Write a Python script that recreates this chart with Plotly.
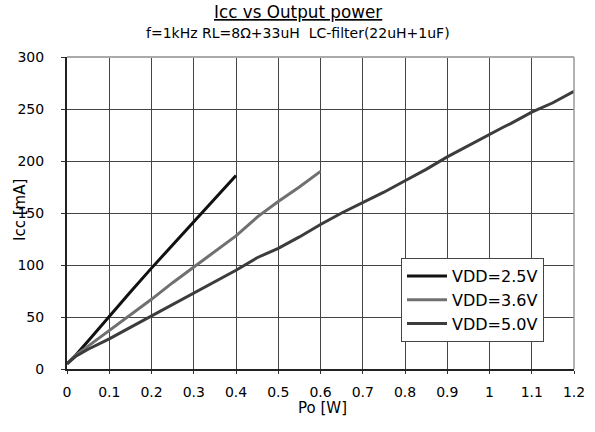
import plotly.graph_objects as go

series_names = ["VDD=2.5V", "VDD=3.6V", "VDD=5.0V"]

po_25 = [0, 0.02, 0.05, 0.1, 0.15, 0.2, 0.25, 0.3, 0.35, 0.4]
icc_25 = [5, 13, 27, 51, 74, 97, 119, 141, 164, 186]

po_36 = [0, 0.02, 0.05, 0.1, 0.15, 0.2, 0.25, 0.3, 0.35, 0.4, 0.45, 0.5, 0.55, 0.6]
icc_36 = [5, 13, 22, 37, 52, 67, 83, 98, 113, 128, 146, 161, 175, 190]

po_50 = [0, 0.02, 0.05, 0.1, 0.15, 0.2, 0.25, 0.3, 0.35, 0.4, 0.45, 0.48, 0.5, 0.55, 0.6,
         0.65, 0.7, 0.75, 0.8, 0.85, 0.9, 0.95, 1.0, 1.03, 1.05, 1.1, 1.15, 1.2]
icc_50 = [5, 12, 19, 29, 40, 51, 62, 73, 84, 95, 107, 112, 116, 127, 139,
          150, 160, 170, 181, 192, 204, 215, 226, 232, 236, 247, 256, 267]

x_ticks = [0, 0.1, 0.2, 0.3, 0.4, 0.5, 0.6, 0.7, 0.8, 0.9, 1.0, 1.1, 1.2]
x_tick_labels = ["0", "0.1", "0.2", "0.3", "0.4", "0.5", "0.6", "0.7", "0.8", "0.9", "1", "1.1", "1.2"]
y_ticks = [0, 50, 100, 150, 200, 250, 300]

title = "<u>Icc vs Output power</u>"
subtitle = "f=1kHz RL=8\u03a9+33uH\u00a0 LC-filter(22uH+1uF)"
x_title = "Po [W]"
y_title = "Icc [mA]"

FONT = "DejaVu Sans"

W, H = 595, 432
ML, MR, MT, MB = 67, 21, 57, 63
PLOT_W = W - ML - MR
PLOT_H = H - MT - MB


def px_x(p):
    return (p - ML) / PLOT_W


def px_y(p):
    return (H - MB - p) / PLOT_H


fig = go.Figure()
colors = ["#111111", "#707070", "#3c3c3c"]
for name, xs, ys, c in zip(series_names, [po_25, po_36, po_50], [icc_25, icc_36, icc_50], colors):
    fig.add_trace(go.Scatter(x=xs, y=ys, mode="lines", name=name,
                             line=dict(color=c, width=3)))

fig.update_layout(
    width=W, height=H,
    margin=dict(l=ML, r=MR, t=MT, b=MB, autoexpand=False),
    paper_bgcolor="white", plot_bgcolor="white",
    font=dict(family=FONT, size=14, color="black"),
    showlegend=True,
    legend=dict(x=px_x(401), y=px_y(258), xanchor="left", yanchor="top",
                bordercolor="#444444", borderwidth=1, bgcolor="white",
                font=dict(family=FONT, size=16), tracegroupgap=0,
                itemwidth=40),
    annotations=[
        dict(text=title, x=px_x(297.5), y=px_y(12), xref="paper", yref="paper",
             yanchor="middle", showarrow=False, font=dict(family=FONT, size=16.8)),
        dict(text=subtitle, x=px_x(297.5), y=px_y(33), xref="paper", yref="paper",
             yanchor="middle", showarrow=False, font=dict(family=FONT, size=14)),
        dict(text=y_title, x=px_x(20), y=px_y(210), xref="paper", yref="paper",
             textangle=-90, xanchor="center", yanchor="middle", showarrow=False,
             font=dict(family=FONT, size=15)),
        dict(text=x_title, x=px_x(322), y=px_y(408), xref="paper", yref="paper",
             xanchor="center", yanchor="middle", showarrow=False,
             font=dict(family=FONT, size=15)),
    ],
)

fig.update_xaxes(range=[0, 1.2], tickvals=x_ticks, ticktext=x_tick_labels,
                 showgrid=True, gridcolor="#444444", gridwidth=1,
                 showline=True, linecolor="#222222", linewidth=1.5, mirror=False,
                 ticks="outside", ticklen=3, tickcolor="#333333",
                 zeroline=False, automargin=False,
                 ticklabelstandoff=6)
fig.update_yaxes(range=[0, 300], tickvals=y_ticks,
                 showgrid=True, gridcolor="#444444", gridwidth=1,
                 showline=True, linecolor="#222222", linewidth=2,
                 ticks="outside", ticklen=4, tickcolor="#333333",
                 zeroline=False, automargin=False,
                 ticklabelstandoff=14)

# light gray top and right frame
fig.add_shape(type="line", xref="paper", yref="paper", x0=0, x1=1, y0=1, y1=1,
              line=dict(color="#aaaaaa", width=2))
fig.add_shape(type="line", xref="paper", yref="paper", x0=1, x1=1, y0=0, y1=1,
              line=dict(color="#999999", width=1.5))

fig.write_html("out.html", config={"displayModeBar": False},
               post_script="document.body.style.margin='0';")
